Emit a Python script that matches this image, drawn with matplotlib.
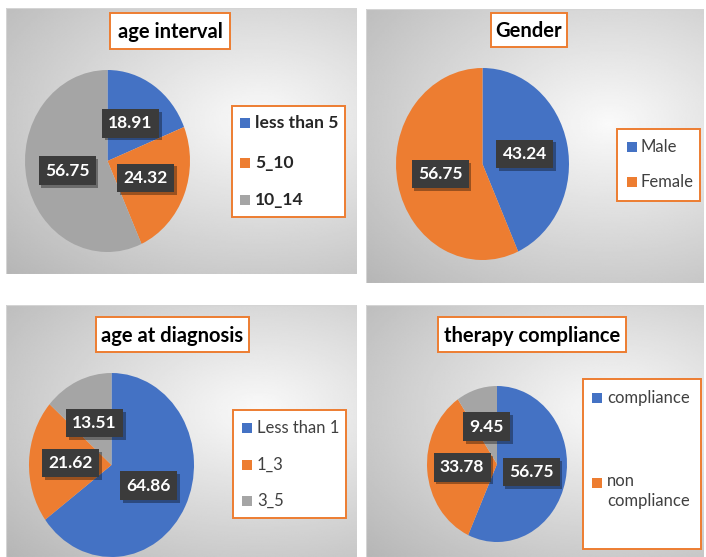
import matplotlib
matplotlib.use("Agg")
import matplotlib.pyplot as plt
import matplotlib.patheffects as pe
from matplotlib.patches import Rectangle
import numpy as np

plt.rcParams['font.family'] = ['Lato', 'DejaVu Sans']

W, H = 706, 557

# data
age_labels = ['less than 5', '5_10', '10_14']
age_values = [18.91, 24.32, 56.75]
gender_labels = ['Male', 'Female']
gender_values = [43.24, 56.75]
diag_labels = ['Less than 1', '1_3', '3_5']
diag_values = [64.86, 21.62, 13.51]
therapy_labels = ['compliance', 'non\ncompliance']
therapy_values = [56.75, 33.78, 9.45]

COLORS = ['#4472C4', '#ED7D31', '#A5A5A5']
ORANGE = '#ED7D31'

fig = plt.figure(figsize=(W / 100, H / 100), dpi=100)
fig.patch.set_facecolor('white')


def frect(x0, y0, x1, y1):
    # pixel box (top-left origin) -> figure fraction rect
    return [x0 / W, 1 - y1 / H, (x1 - x0) / W, (y1 - y0) / H]


def fx(x):
    return x / W


def fy(y):
    return 1 - y / H


def add_background(x0, y0, x1, y1):
    ax = fig.add_axes(frect(x0, y0, x1, y1))
    ax.set_axis_off()
    yy, xx = np.mgrid[0:1:200j, 0:1:200j]
    d = np.hypot((xx - 0.72) / 1.0, (yy - 0.42) / 0.85)
    v = np.clip(0.98 - 0.27 * d, 0, 1)
    ax.imshow(v, cmap='gray', vmin=0, vmax=1, aspect='auto',
              extent=(0, 1, 0, 1), interpolation='bilinear')
    ax.add_patch(Rectangle((0, 0), 1, 1, transform=ax.transAxes,
                           fill=False, edgecolor='#d4d4d4', lw=0.8))


def add_title(text, x0, y0, x1, y1):
    fig.patches.append(Rectangle((fx(x0), fy(y1)), fx(x1) - fx(x0), fy(y0) - fy(y1),
                                 transform=fig.transFigure, facecolor='white',
                                 edgecolor=ORANGE, lw=1.4, zorder=5))
    fig.text(fx((x0 + x1) / 2), fy((y0 + y1) / 2 + 1), text, ha='center', va='center',
             fontsize=14.5, fontweight='bold', color='black', zorder=6)


def draw_pie(values, x0, y0, x1, y1):
    ax = fig.add_axes(frect(x0, y0, x1, y1))
    total = sum(values)
    wedges, texts, autotexts = ax.pie(
        values, colors=COLORS[:len(values)], startangle=90, counterclock=False,
        autopct=lambda p: f'{p * total / 100:.2f}', pctdistance=0.5,
        wedgeprops=dict(linewidth=0),
        textprops=dict(color='white', fontsize=12.5, fontweight='bold'))
    ax.set_aspect('auto')
    ax.set_xlim(-1, 1)
    ax.set_ylim(-1, 1)
    for t in autotexts:
        t.set_bbox(dict(boxstyle='square,pad=0.36', fc='#3b3b3b', ec='none'))
        t.get_bbox_patch().set_path_effects(
            [pe.SimplePatchShadow(offset=(2, -2), shadow_rgbFace='black', alpha=0.35),
             pe.Normal()])
    return wedges


def add_legend(labels, wedges, box, sq_x, txt_x, ys, bold=False, size=12):
    x0, y0, x1, y1 = box
    fig.patches.append(Rectangle((fx(x0), fy(y1)), fx(x1) - fx(x0), fy(y0) - fy(y1),
                                 transform=fig.transFigure, facecolor='white',
                                 edgecolor=ORANGE, lw=1.4, zorder=5))
    for lab, w, y in zip(labels, wedges, ys):
        fig.patches.append(Rectangle((fx(sq_x), fy(y + 5)), 10 / W, 10 / H,
                                     transform=fig.transFigure,
                                     facecolor=w.get_facecolor(), edgecolor='none',
                                     zorder=6))
        multi = '\n' in lab
        fig.text(fx(txt_x), fy(y - 10) if multi else fy(y), lab, ha='left',
                 va='top' if multi else 'center',
                 fontsize=size, color='#262626' if bold else '#404040',
                 fontweight='bold' if bold else 'normal', linespacing=1.3, zorder=6)


# panel backgrounds
add_background(6, 8, 357, 274)
add_background(366, 9, 704, 283)
add_background(6, 305, 357, 557)
add_background(366, 305, 704, 557)

# age interval
w1 = draw_pie(age_values, 25, 70, 190, 252)
add_title('age interval', 110, 13, 230, 49)
add_legend(age_labels, w1, (232, 106, 345, 217), 240, 255, [123, 163, 200],
           bold=True, size=12.6)

# gender
w2 = draw_pie(gender_values, 396, 68, 569, 260)
add_title('Gender', 491, 13, 567, 47)
add_legend(gender_labels, w2, (617, 129, 700, 201), 627, 640, [147, 182])

# age at diagnosis
w3 = draw_pie(diag_values, 29, 373, 194, 557)
add_title('age at diagnosis', 96, 317, 249, 352)
add_legend(diag_labels, w3, (233, 410, 346, 518), 242, 257, [428, 465, 501])

# therapy compliance
w4 = draw_pie(therapy_values, 427, 386, 567, 542)
add_title('therapy compliance', 438, 317, 626, 352)
add_legend(therapy_labels, w4, (583, 379, 701, 549), 592, 607, [398, 483])

fig.savefig('out.png', dpi=100)
